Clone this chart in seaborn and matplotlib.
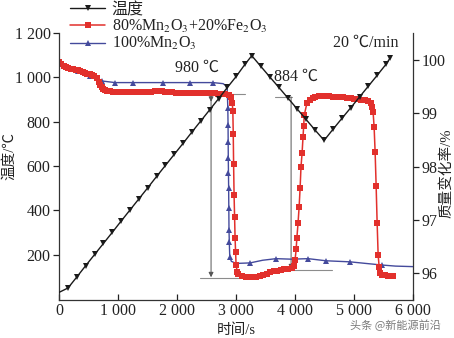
import matplotlib
matplotlib.use("Agg")
import matplotlib.pyplot as plt
from matplotlib.lines import Line2D
from matplotlib.ticker import FixedLocator
import seaborn as sns

# ---------------- data ----------------
temp_t = [0, 153, 303, 453, 603, 753, 903, 1053, 1203, 1353, 1503, 1653, 1803, 1953,
          2103, 2253, 2403, 2553, 2703, 2853, 3003, 3153, 3266,
          3419, 3572, 3725, 3878, 4031, 4184, 4337, 4492,
          4642, 4792, 4942, 5092, 5242, 5392, 5542, 5610]
temp_v = [30, 50, 100, 151, 201, 251, 301, 352, 402, 452, 502, 553, 603, 653,
          703, 754, 804, 854, 904, 955, 1005, 1060, 1098,
          1050, 1002, 955, 907, 859, 811, 763, 716,
          766, 815, 863, 912, 961, 1010, 1060, 1088]

blue_t = [0, 322, 525, 729, 949, 1254, 1763, 2220, 2610, 2780, 2830, 2850, 2860, 2864,
          2866, 2868, 2871, 2874, 2877, 2880, 2885, 2893, 2920, 3000, 3237, 3450, 3678,
          3940, 4220, 4525, 4932, 5200, 5475, 5700, 6000]
blue_v = [99.94, 99.79, 99.70, 99.61, 99.58, 99.58, 99.58, 99.58, 99.58, 99.56, 99.52,
          99.45, 99.10, 98.78, 98.46, 98.16, 97.88, 97.60, 97.22, 96.81, 96.59, 96.30,
          96.22, 96.18, 96.19, 96.24, 96.27, 96.26, 96.27, 96.23, 96.21, 96.18, 96.15,
          96.13, 96.12]
blue_mark = [0, 1, 2, 3, 4, 5, 6, 7, 8, 12, 13, 14, 15, 16, 17, 18, 19, 20, 21, 24, 26,
             28, 29, 30, 32]

red_t = [0, 40, 80, 120, 160, 200, 240, 280, 322, 360, 400, 440, 480, 525, 560, 600,
         644, 670, 695, 720, 750, 780, 820, 860, 915,
         960, 1020, 1080, 1140, 1200, 1260, 1320, 1380, 1440, 1500, 1560, 1620, 1680,
         1740, 1800, 1860, 1920, 1980, 2040, 2100, 2160, 2220, 2280, 2340, 2400, 2460,
         2520, 2580, 2640, 2700, 2760, 2820, 2880, 2910, 2935,
         2945, 2952, 2958, 2966, 2975, 2983, 2992, 3000, 3020,
         3040, 3100, 3160, 3220, 3280, 3340, 3400, 3460, 3520, 3580, 3640, 3700, 3760,
         3820, 3880, 3940, 3980,
         4000, 4018, 4030, 4050, 4068, 4085, 4100, 4118, 4135, 4145, 4155, 4200, 4250,
         4300, 4340,
         4400, 4460, 4520, 4580, 4640, 4700, 4760, 4820, 4880, 4940, 5000, 5060, 5120,
         5180, 5240, 5290, 5310,
         5322, 5339, 5356, 5373, 5390, 5407, 5424, 5440, 5470, 5520, 5570, 5620, 5660]
red_v = [99.96, 99.93, 99.90, 99.88, 99.86, 99.84, 99.83, 99.82, 99.81, 99.79, 99.78,
         99.76, 99.75, 99.74, 99.72, 99.70, 99.66, 99.60, 99.53, 99.49, 99.46, 99.45,
         99.43, 99.42, 99.41,
         99.40, 99.40, 99.40, 99.40, 99.40, 99.40, 99.40, 99.40, 99.41, 99.41, 99.41,
         99.42, 99.42, 99.42, 99.41, 99.40, 99.40, 99.39, 99.39, 99.39, 99.39, 99.39,
         99.39, 99.39, 99.38, 99.38, 99.38, 99.38, 99.38, 99.37, 99.37, 99.36, 99.34,
         99.30, 99.20,
         99.05, 98.62, 98.05, 97.47, 97.05, 96.66, 96.40, 96.15, 96.02,
         95.98, 95.95, 95.93, 95.92, 95.92, 95.93, 95.95, 95.97, 95.99, 96.01, 96.03,
         96.04, 96.06, 96.07, 96.08, 96.10, 96.14,
         96.25, 96.45, 96.66, 96.94, 97.24, 97.60, 98.00, 98.25, 98.56, 98.76, 98.97,
         99.19, 99.26, 99.29, 99.31,
         99.32, 99.32, 99.32, 99.32, 99.31, 99.31, 99.30, 99.30, 99.29, 99.29, 99.28,
         99.27, 99.26, 99.25, 99.23, 99.20, 99.13,
         99.02, 98.74, 98.27, 97.64, 96.94, 96.34, 96.12, 96.00, 95.97, 95.96, 95.95,
         95.95, 95.94]

x_ticks = [0, 1000, 2000, 3000, 4000, 5000, 6000]
x_labels = ["0", "1 000", "2 000", "3 000", "4 000", "5 000", "6 000"]
yl_ticks = [200, 400, 600, 800, 1000, 1200]
yl_labels = ["200", "400", "600", "800", "1 000", "1 200"]
yr_ticks = [96, 97, 98, 99, 100]
yr_labels = ["96", "97", "98", "99", "100"]

series_labels = ["温度", "80%Mn$_2$O$_3$+20%Fe$_2$O$_3$", "100%Mn$_2$O$_3$"]

# ---------------- style ----------------
sns.set_theme(style="ticks")
plt.rcParams["font.family"] = ["Liberation Serif", "Noto Sans CJK SC", "DejaVu Serif"]
plt.rcParams["mathtext.fontset"] = "stix"
plt.rcParams["axes.unicode_minus"] = False
FS = 11.5
LFS = 10.5

c_temp = "#1a1a1a"
c_red = "#e2302c"
c_blue = "#444a9c"
c_gray = "#8c8c8c"
c_txt = "#222222"

fig = plt.figure(figsize=(4.54, 3.38), dpi=100)
ax = fig.add_axes([0.130, 0.112, 0.780, 0.790])
ax2 = ax.twinx()

# temperature (left axis)
sns.lineplot(x=temp_t, y=temp_v, ax=ax, color=c_temp, lw=1.0, marker="v",
             markersize=4.8, markeredgewidth=0, markevery=slice(1, None),
             sort=False, estimator=None, legend=False, zorder=5)

# annotation guide lines (right axis coordinates)
gl = dict(color=c_gray, lw=0.8, zorder=1)
ax2.plot([2576, 3150], [99.37, 99.37], **gl)
ax2.plot([2390, 3070], [95.91, 95.91], **gl)
ax2.plot([3661, 3949], [99.31, 99.31], **gl)
ax2.plot([3932, 4627], [96.06, 96.06], **gl)
arr = dict(arrowstyle="-|>", color="#555555", lw=0.7, mutation_scale=7,
           shrinkA=0, shrinkB=0)
ax2.annotate("", xy=(2576, 95.92), xytext=(2576, 99.37), arrowprops=arr, zorder=1)
ax2.annotate("", xy=(2576, 99.22), xytext=(2576, 99.37), arrowprops=arr, zorder=1)
ax2.annotate("", xy=(3932, 96.07), xytext=(3932, 99.31), arrowprops=arr, zorder=1)

# mass change (right axis)
sns.lineplot(x=blue_t, y=blue_v, ax=ax2, color=c_blue, lw=1.0, marker="^",
             markersize=5, markeredgewidth=0, markevery=blue_mark,
             sort=False, estimator=None, legend=False, zorder=3)
sns.lineplot(x=red_t, y=red_v, ax=ax2, color=c_red, lw=1.1, marker="s",
             markersize=4.6, markeredgewidth=0,
             sort=False, estimator=None, legend=False, zorder=4)

ax.set_zorder(ax2.get_zorder() + 1)
ax.patch.set_visible(False)

# axes limits and ticks
ax.set_xlim(0, 6000)
ax.set_ylim(-5, 1200)
ax2.set_ylim(95.49, 100.51)

ax.xaxis.set_major_locator(FixedLocator(x_ticks))
ax.set_xticklabels(x_labels)
ax.yaxis.set_major_locator(FixedLocator(yl_ticks))
ax.set_yticklabels(yl_labels)
ax2.yaxis.set_major_locator(FixedLocator(yr_ticks))
ax2.set_yticklabels(yr_labels)

ax.tick_params(axis="x", direction="in", length=4, width=0.9, labelsize=FS, pad=2, colors=c_txt)
ax.tick_params(axis="y", direction="out", length=4, width=0.9, labelsize=FS, pad=2, colors=c_txt)
ax2.tick_params(axis="y", direction="out", length=4, width=0.9, labelsize=FS, pad=2, colors=c_txt)

for a in (ax, ax2):
    a.spines["top"].set_visible(False)
    for s in ("left", "right", "bottom"):
        a.spines[s].set_linewidth(0.9)
        a.spines[s].set_color("#333333")
ax.spines["right"].set_visible(False)
ax2.spines["left"].set_visible(False)
ax2.spines["bottom"].set_visible(False)

ax.set_xlabel("时间/s", fontsize=LFS, color=c_txt, va="center")
ax.set_ylabel("温度/℃", fontsize=LFS, color=c_txt, va="center")
ax2.set_ylabel("质量变化率/%", fontsize=LFS, color=c_txt, rotation=90, va="center")
ax.xaxis.set_label_coords(0.50, -0.112)
ax.yaxis.set_label_coords(-0.141, 0.539)
ax2.yaxis.set_label_coords(1.095, 0.476)

# text annotations
ax.text(2340, 1045, "980 ℃", fontsize=FS, ha="center", va="center", color=c_txt)
ax.text(4017, 1001, "884 ℃", fontsize=FS, ha="center", va="center", color=c_txt)
ax.text(5203, 1155, "20 ℃/min", fontsize=FS, ha="center", va="center", color=c_txt)

# legend
handles = [
    Line2D([], [], color=c_temp, lw=1.0, marker="v", markersize=4.8, markeredgewidth=0),
    Line2D([], [], color=c_red, lw=1.1, marker="s", markersize=4.6, markeredgewidth=0),
    Line2D([], [], color=c_blue, lw=1.0, marker="^", markersize=5, markeredgewidth=0),
]
leg = ax.legend(handles, series_labels, loc="upper left",
                bbox_to_anchor=(70 / 454, 1 - 2 / 338), bbox_transform=fig.transFigure,
                frameon=False, fontsize=FS, labelspacing=0.0, handlelength=2.2,
                handletextpad=0.4, borderpad=0.0, borderaxespad=0.0)
for t in leg.get_texts():
    t.set_color(c_txt)

# watermark
fig.text(0.872, 1 - 325 / 338, "头条 @新能源前沿", fontsize=8, color="#7a7a7a",
         ha="center", va="center", family=["Noto Sans CJK SC", "DejaVu Sans"])

fig.savefig("out.png", dpi=100)
